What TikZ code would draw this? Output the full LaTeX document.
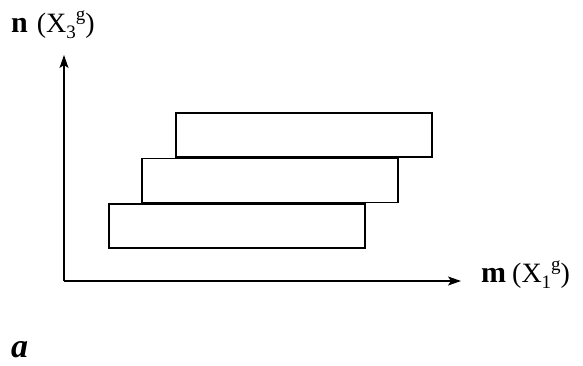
\documentclass[tikz,border=0pt]{standalone}
\usepackage{fontspec}
\setmainfont{Liberation Serif}
\usetikzlibrary{positioning,arrows.meta}

\tikzset{bande/.style = {draw, rectangle, line width=1.5pt, inner sep=0pt,
                         minimum width=256pt, minimum height=44pt},
         axe/.style = {line width=1.5pt, -{Stealth[length=13pt, width=9pt, inset=3pt]}},
         etiq/.style = {inner sep=0pt, font=\fontsize{28}{30}\selectfont}
        }
\newcommand{\indice}[1]{\raisebox{-6pt}{\fontsize{19}{20}\selectfont #1}}
\newcommand{\expo}[1]{\raisebox{12pt}{\fontsize{19}{20}\selectfont #1}}

\begin{document}
\begin{tikzpicture}[x=1pt, y=-1pt]
  \useasboundingbox (0,0) rectangle (583,365);
  % axes
  \coordinate (origine) at (64,281);
  \coordinate (ordonnee) at (64,55);
  \coordinate (abscisse) at (461,281);
  \draw[axe] (origine) -- (ordonnee);
  \draw[axe] (origine) -- (abscisse);
  % bandes
  \node[bande] (haut) at (304,135) {};
  \node[bande, anchor=north west] (milieu) at ([xshift=-34pt]haut.south west) {};
  \node[bande, anchor=north west] (bas) at ([xshift=-33pt]milieu.south west) {};
  % etiquettes
  \node[etiq, anchor=base west] (n) at (11,32)
       {{\fontsize{30}{32}\selectfont\textbf{n}}\hspace{9pt}(X\indice{3}\expo{g})};
  \node[etiq, anchor=base west] (m) at (481,282)
       {{\fontsize{30}{32}\selectfont\textbf{m}}\hspace{6pt}(X\indice{1}\expo{g})};
  \node[inner sep=0pt, anchor=base west] (a) at (11,357)
       {\fontsize{34}{36}\selectfont\textbf{\textit{a}}};
\end{tikzpicture}
\end{document}
